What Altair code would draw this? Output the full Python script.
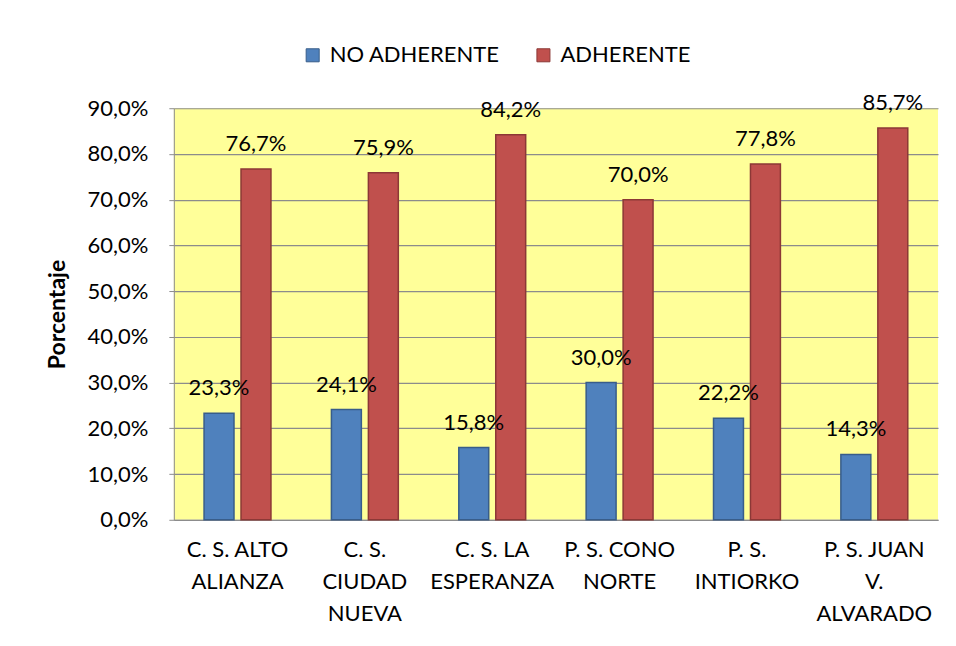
import altair as alt
import pandas as pd

categories = ["C. S. ALTO|ALIANZA", "C. S.|CIUDAD|NUEVA", "C. S. LA|ESPERANZA",
              "P. S. CONO|NORTE", "P. S.|INTIORKO", "P. S. JUAN|V.|ALVARADO"]
series = ["NO ADHERENTE", "ADHERENTE"]
no_adherente = [23.3, 24.1, 15.8, 30.0, 22.2, 14.3]
adherente = [76.7, 75.9, 84.2, 70.0, 77.8, 85.7]
y_ticks = [0, 10, 20, 30, 40, 50, 60, 70, 80, 90]

rows = []
for c, a, b in zip(categories, no_adherente, adherente):
    rows.append({"cat": c, "serie": series[0], "val": a})
    rows.append({"cat": c, "serie": series[1], "val": b})
df = pd.DataFrame(rows)

FONT = "Lato"
FS = 22

x = alt.X("cat:N", sort=categories, title=None,
          scale=alt.Scale(paddingInner=0, paddingOuter=0),
          axis=alt.Axis(labelExpr="split(datum.label, '|')", labelAngle=0,
                        ticks=False, domain=True, domainColor="#8C8C8C",
                        labelPadding=20, labelLineHeight=32, labelFontSize=FS,
                        labelFont=FONT, labelColor="#000000", grid=False,
                        labelBaseline="top", labelLimit=300))
xo = alt.XOffset("serie:N", sort=series,
                 scale=alt.Scale(paddingInner=0.19, paddingOuter=0.818))
y = alt.Y("val:Q", title="Porcentaje",
          scale=alt.Scale(domain=[0, 90], nice=False),
          axis=alt.Axis(values=y_ticks,
                        labelExpr="replace(format(datum.value, '.1f'), '.', ',') + '%'",
                        labelFontSize=FS, labelFont=FONT, labelColor="#000000",
                        tickSize=5, tickColor="#8C8C8C", labelPadding=21,
                        domainColor="#8C8C8C", gridColor="#8C8C8C", gridWidth=1.2,
                        titleFont=FONT, titleFontSize=23, titleFontWeight="bold",
                        titleColor="#000000", titleX=-116, titleY=206,
                        titleAngle=270, titleAlign="center", titleBaseline="middle"))

base = alt.Chart(df)

bars = base.mark_bar(strokeWidth=1.5).encode(
    x=x, xOffset=xo, y=y,
    color=alt.Color("serie:N", sort=series, title=None,
                    scale=alt.Scale(domain=series, range=["#4F81BD", "#C0504D"]),
                    legend=alt.Legend(orient="none", legendX=128, legendY=-64,
                                      direction="horizontal", symbolType="square",
                                      symbolSize=170, labelFontSize=FS,
                                      labelFont=FONT, labelColor="#000000",
                                      columnPadding=32, labelOffset=6,
                                      labelLimit=400, symbolStrokeWidth=1)),
    stroke=alt.Stroke("serie:N", sort=series,
                      scale=alt.Scale(domain=series, range=["#385D8A", "#8C3836"]),
                      legend=None),
)

labels = base.transform_calculate(
    lbl="replace(format(datum.val, '.1f'), '.', ',') + '%'"
).mark_text(dy=-18, baseline="alphabetic", fontSize=FS, font=FONT,
            color="#000000").encode(
    x=x, xOffset=xo, y=y, text="lbl:N")

chart = alt.layer(bars, labels).properties(
    width=765, height=412,
    autosize=alt.AutoSizeParams(type="none"),
    padding={"left": 166, "top": 100, "right": 10, "bottom": 120},
    background="#FFFFFF",
).configure_view(fill="#FFFF99", stroke=None).configure_axis(
    labelFont=FONT, titleFont=FONT)

chart.save("out.html", embed_options={"renderer": "svg", "actions": False})
